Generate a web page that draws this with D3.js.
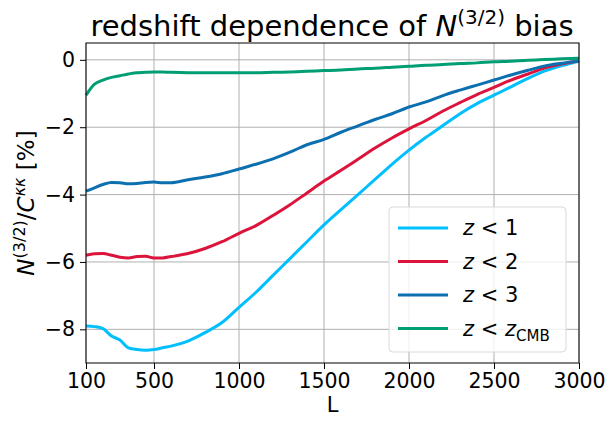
<!DOCTYPE html>
<html>
<head>
<meta charset="utf-8">
<script src="https://cdn.jsdelivr.net/npm/d3@7"></script>
<style>
  body { margin: 0; background: #fff; }
  svg text { font-family: "DejaVu Sans", sans-serif; fill: #000; }
</style>
</head>
<body>
<svg id="chart" width="611" height="421"></svg>
<script>
const ells = [100, 150, 200, 250, 300, 350, 400, 450, 500, 550, 600, 700, 800, 900, 1000, 1100, 1200, 1300, 1400, 1500,
  1600, 1700, 1800, 1900, 2000, 2100, 2200, 2300, 2400, 2500, 2600, 2700, 2800, 2900, 3000];

const zLt1 = [-7.9, -7.92, -7.98, -8.2, -8.32, -8.55, -8.6, -8.62, -8.6, -8.55, -8.5, -8.35, -8.1, -7.8, -7.35, -6.9, -6.4, -5.9, -5.4, -4.9,
  -4.45, -4.0, -3.55, -3.1, -2.68, -2.3, -1.95, -1.6, -1.3, -1.05, -0.8, -0.55, -0.33, -0.17, -0.04];
const zLt2 = [-5.8, -5.76, -5.75, -5.8, -5.86, -5.88, -5.84, -5.83, -5.88, -5.88, -5.84, -5.75, -5.6, -5.4, -5.15, -4.92, -4.62, -4.3, -3.95, -3.6,
  -3.28, -2.95, -2.62, -2.32, -2.05, -1.8, -1.52, -1.27, -1.03, -0.82, -0.6, -0.42, -0.24, -0.12, -0.03];
const zLt3 = [-3.9, -3.8, -3.7, -3.64, -3.65, -3.68, -3.67, -3.64, -3.63, -3.65, -3.65, -3.56, -3.48, -3.38, -3.24, -3.1, -2.94, -2.74, -2.52, -2.36,
  -2.15, -1.96, -1.77, -1.6, -1.4, -1.25, -1.06, -0.9, -0.75, -0.6, -0.45, -0.31, -0.18, -0.1, -0.03];
const zLtCmb = [-1.05, -0.72, -0.6, -0.52, -0.47, -0.42, -0.38, -0.37, -0.36, -0.36, -0.37, -0.38, -0.38, -0.38, -0.38, -0.38, -0.37, -0.36, -0.34, -0.32,
  -0.3, -0.27, -0.25, -0.22, -0.19, -0.16, -0.14, -0.11, -0.09, -0.06, -0.04, -0.01, 0.01, 0.03, 0.05];

const xTicks = [100, 500, 1000, 1500, 2000, 2500, 3000];
const yTicks = [0, -2, -4, -6, -8];

const series = [
  { name: "1", values: zLt1, color: "#00bfff" },
  { name: "2", values: zLt2, color: "#dc143c" },
  { name: "3", values: zLt3, color: "#0b6fb0" },
  { name: "CMB", values: zLtCmb, color: "#009e73" }
];

const svg = d3.select("#chart");
const margin = { left: 86, right: 32, top: 43, bottom: 58 };
const width = 611 - margin.left - margin.right;
const height = 421 - margin.top - margin.bottom;

const x = d3.scaleLinear().domain([100, 3000]).range([0, width]);
const y = d3.scaleLinear().domain([-9, 0.5]).range([height, 0]);

const g = svg.append("g").attr("transform", `translate(${margin.left},${margin.top})`);

// grid
g.append("g").selectAll("line").data(xTicks).join("line")
  .attr("x1", d => x(d)).attr("x2", d => x(d)).attr("y1", 0).attr("y2", height)
  .attr("stroke", "#b0b0b0").attr("stroke-width", 1);
g.append("g").selectAll("line").data(yTicks).join("line")
  .attr("y1", d => y(d)).attr("y2", d => y(d)).attr("x1", 0).attr("x2", width)
  .attr("stroke", "#b0b0b0").attr("stroke-width", 1);

const fmt = d => d < 0 ? "\u2212" + Math.abs(d) : String(d);

const xAxis = g.append("g").attr("transform", `translate(0,${height})`)
  .call(d3.axisBottom(x).tickValues(xTicks).tickFormat(d3.format("d")).tickSize(6).tickPadding(4));
const yAxis = g.append("g")
  .call(d3.axisLeft(y).tickValues(yTicks).tickFormat(fmt).tickSize(6).tickPadding(5));
[xAxis, yAxis].forEach(a => {
  a.select(".domain").remove();
  a.selectAll("text").style("font-size", "20.5px").style("font-family", "DejaVu Sans");
  a.selectAll("line").attr("stroke", "#000").attr("stroke-width", 1);
});

const line = d3.line().x((d, i) => x(ells[i])).y(d => y(d)).curve(d3.curveMonotoneX);
g.append("g").selectAll("path").data(series).join("path")
  .attr("d", d => line(d.values))
  .attr("fill", "none")
  .attr("stroke", d => d.color)
  .attr("stroke-width", 3);

g.append("rect").attr("width", width).attr("height", height)
  .attr("fill", "none").attr("stroke", "#000").attr("stroke-width", 1);

// legend
const lg = g.append("g").attr("transform", `translate(${389 - margin.left},${207 - margin.top})`);
lg.append("rect").attr("width", 177).attr("height", 145).attr("rx", 4)
  .attr("fill", "#fff").attr("fill-opacity", 0.8).attr("stroke", "#d9d9d9");
series.forEach((s, i) => {
  const yy = 21 + i * 33.5;
  lg.append("line").attr("x1", 9).attr("x2", 59).attr("y1", yy).attr("y2", yy)
    .attr("stroke", s.color).attr("stroke-width", 3);
  const t = lg.append("text").attr("x", 74).attr("y", yy + 7).style("font-size", "21px");
  t.append("tspan").attr("font-style", "italic").text("z");
  t.append("tspan").text(" < ");
  if (s.name === "CMB") {
    t.append("tspan").attr("font-style", "italic").text("z");
    t.append("tspan").attr("dy", 5).style("font-size", "15px").text("CMB");
  } else {
    t.append("tspan").text(s.name);
  }
});

// title
const title = svg.append("text").attr("x", 332).attr("y", 36).attr("text-anchor", "middle")
  .style("font-size", "29px");
title.append("tspan").text("redshift dependence of ");
title.append("tspan").attr("font-style", "italic").text("N");
title.append("tspan").attr("dy", -12).style("font-size", "20px").text("(3/2)");
title.append("tspan").attr("dy", 12).text(" bias");

// axis labels
svg.append("text").attr("x", margin.left + width / 2).attr("y", 412).attr("text-anchor", "middle")
  .style("font-size", "21px").text("L");

const yl = svg.append("text").attr("transform", `translate(34,${margin.top + height / 2}) rotate(-90)`)
  .attr("text-anchor", "middle").style("font-size", "23px");
yl.append("tspan").attr("font-style", "italic").text("N");
yl.append("tspan").attr("dy", -9).style("font-size", "16px").text("(3/2)");
yl.append("tspan").attr("dy", 9).text("/");
yl.append("tspan").attr("font-style", "italic").text("C");
yl.append("tspan").attr("dy", -9).style("font-size", "16px").attr("font-style", "italic").text("κκ");
yl.append("tspan").attr("dy", 9).text(" [%]");
</script>
</body>
</html>
